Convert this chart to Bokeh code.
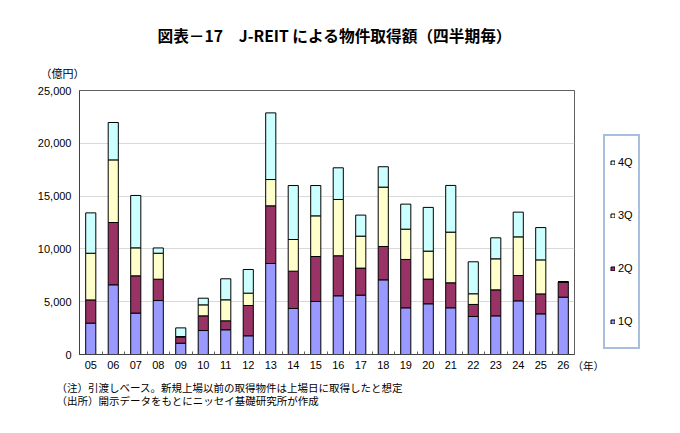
from bokeh.plotting import figure
from bokeh.models import (ColumnDataSource, Range1d, FixedTicker, NumeralTickFormatter,
                          Label, Legend, LegendItem, Title)
from bokeh.embed import file_html
from bokeh.resources import INLINE

years = ["05", "06", "07", "08", "09", "10", "11", "12", "13", "14", "15",
         "16", "17", "18", "19", "20", "21", "22", "23", "24", "25", "26"]
q1 = [2970, 6600, 3920, 5110, 1070, 2270, 2340, 1770, 8620, 4360, 5020,
      5560, 5620, 7070, 4420, 4800, 4420, 3600, 3660, 5080, 3850, 5430]
q2 = [2200, 5900, 3530, 2020, 570, 1390, 850, 2870, 5460, 3530, 4260,
      3790, 2560, 3160, 4580, 2340, 2370, 1140, 2460, 2400, 1890, 1450]
q3 = [4420, 5930, 2650, 2460, 60, 1040, 1990, 1170, 2490, 3000, 3850,
      5330, 3030, 5620, 2870, 2650, 4800, 1010, 2940, 3660, 3220, 0]
q4 = [3820, 3540, 4960, 500, 820, 630, 1990, 2240, 6310, 5110, 2870,
      3000, 1990, 1930, 2370, 4140, 4420, 3030, 1990, 2340, 3060, 0]
series = ["1Q", "2Q", "3Q", "4Q"]
colors = ["#9999FF", "#993366", "#FFFFCC", "#CCFFFF"]
y_ticks = [0, 5000, 10000, 15000, 20000, 25000]

title_text = "図表－17　J-REIT による物件取得額（四半期毎）"
unit_text = "（億円）"
year_text = "（年）"
note_text = ("（注）引渡しベース。新規上場以前の取得物件は上場日に取得したと想定\n"
             "（出所）開示データをもとにニッセイ基礎研究所が作成")

JP = "Noto Sans CJK JP"
NUM = "Liberation Sans"

xs = [i + 0.5 for i in range(len(years))]
src = ColumnDataSource(dict(x=xs, **{"1Q": q1, "2Q": q2, "3Q": q3, "4Q": q4}))

p = figure(frame_width=495, frame_height=264, output_backend="svg", toolbar_location=None,
           x_range=Range1d(0, len(years)), y_range=Range1d(0, 25000), title=None,
           min_border_left=79, min_border_right=106, min_border_top=90, min_border_bottom=79,
           background_fill_color="white", border_fill_color="white")

renderers = p.vbar_stack(series, x="x", width=0.45, source=src, fill_color=colors,
                         line_color="#000000", line_width=1)

p.outline_line_color = "#606060"
p.outline_line_width = 1

# x axis
p.xaxis.ticker = FixedTicker(ticks=xs, minor_ticks=list(range(1, len(years))))
p.xaxis.major_label_overrides = {x: y for x, y in zip(xs, years)}
p.xaxis.major_tick_in = 0
p.xaxis.major_tick_out = 0
p.xaxis.minor_tick_in = 3
p.xaxis.minor_tick_out = 0
p.xaxis.minor_tick_line_color = "#606060"
p.xaxis.axis_line_color = "#404040"
p.xaxis.major_label_text_font = NUM
p.xaxis.major_label_text_font_size = "11px"
p.xaxis.major_label_text_color = "#000000"
p.xaxis.major_label_standoff = 6

# y axis
p.yaxis.ticker = FixedTicker(ticks=y_ticks)
p.yaxis.formatter = NumeralTickFormatter(format="0,0")
p.yaxis.major_tick_in = 0
p.yaxis.major_tick_out = 0
p.yaxis.minor_tick_line_color = None
p.yaxis.axis_line_color = "#404040"
p.yaxis.major_label_text_font = NUM
p.yaxis.major_label_text_font_size = "11px"
p.yaxis.major_label_text_color = "#000000"
p.yaxis.major_label_standoff = 8

p.xgrid.grid_line_color = None
p.ygrid.grid_line_color = "#D9D9D9"
p.ygrid.grid_line_width = 1

# legend (right side panel)
items = [LegendItem(label=s, renderers=[r]) for s, r in zip(series, renderers)][::-1]
legend = Legend(items=items, location=(29, 5), orientation="vertical",
                border_line_color="#4F7DBA", border_line_width=2,
                background_fill_color="white", background_fill_alpha=1,
                glyph_width=5, glyph_height=5, label_height=42, label_width=13,
                label_standoff=3, padding=5, spacing=11, margin=0,
                label_text_font=NUM, label_text_font_size="11px", label_text_color="#000000")
p.add_layout(legend, "right")

# texts above the frame: unit first (nearest), then main title
p.add_layout(Title(text=unit_text, align="left", vertical_align="middle", offset=-39,
                   standoff=17, text_font=JP, text_font_size="11px",
                   text_font_style="normal", text_color="#000000"), "above")
p.add_layout(Title(text=title_text, align="left", vertical_align="middle", offset=78,
                   standoff=15, text_font=JP, text_font_size="15.7px",
                   text_font_style="bold", text_color="#000000"), "above")

# notes below the axis
p.add_layout(Title(text=note_text, align="left", vertical_align="middle", offset=-23,
                   standoff=14, text_font=JP, text_font_size="10.5px", text_line_height=0.92,
                   text_font_style="normal", text_color="#000000"), "below")

# year unit next to the last tick label
p.add_layout(Label(x=493, y=66, x_units="screen", y_units="screen", text=year_text,
                   text_font=JP, text_font_size="10.5px",
                   text_align="left", text_baseline="middle", text_color="#000000"), "below")

open("out.html", "w").write(file_html(p, INLINE))
